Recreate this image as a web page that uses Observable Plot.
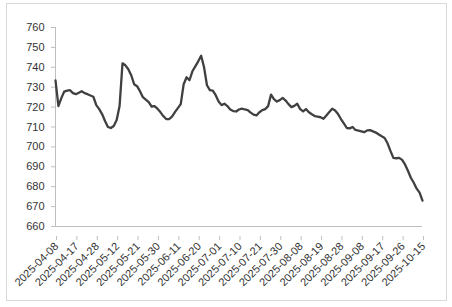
<!DOCTYPE html>
<html>
<head>
<meta charset="utf-8">
<script src="https://cdn.jsdelivr.net/npm/d3@7"></script>
<script src="https://cdn.jsdelivr.net/npm/@observablehq/plot@0.6"></script>
<style>
  html, body { margin: 0; padding: 0; background: #ffffff; }
  #wrap { position: relative; width: 452px; height: 307px; overflow: hidden; }
  #border { position: absolute; left: 6px; top: 3px; width: 439px; height: 296px; border: 1px solid #d9d9d9; pointer-events: none; }
  #chart { position: absolute; left: 0; top: 0; }
</style>
</head>
<body>
<div id="wrap"><div id="chart"></div><div id="border"></div></div>
<script>
const dates = [
  "2025-04-08","2025-04-09","2025-04-10","2025-04-11","2025-04-14","2025-04-15","2025-04-16","2025-04-17","2025-04-18","2025-04-21",
  "2025-04-22","2025-04-23","2025-04-24","2025-04-25","2025-04-28","2025-04-29","2025-04-30","2025-05-06","2025-05-07","2025-05-08",
  "2025-05-09","2025-05-12","2025-05-13","2025-05-14","2025-05-15","2025-05-16","2025-05-19","2025-05-20","2025-05-21","2025-05-22",
  "2025-05-23","2025-05-26","2025-05-27","2025-05-28","2025-05-29","2025-05-30","2025-06-03","2025-06-04","2025-06-05","2025-06-06",
  "2025-06-09","2025-06-10","2025-06-11","2025-06-12","2025-06-13","2025-06-16","2025-06-17","2025-06-18","2025-06-19","2025-06-20",
  "2025-06-23","2025-06-24","2025-06-25","2025-06-26","2025-06-27","2025-06-30","2025-07-01","2025-07-02","2025-07-03","2025-07-04",
  "2025-07-07","2025-07-08","2025-07-09","2025-07-10","2025-07-11","2025-07-14","2025-07-15","2025-07-16","2025-07-17","2025-07-18",
  "2025-07-21","2025-07-22","2025-07-23","2025-07-24","2025-07-25","2025-07-28","2025-07-29","2025-07-30","2025-07-31","2025-08-01",
  "2025-08-04","2025-08-05","2025-08-06","2025-08-07","2025-08-08","2025-08-11","2025-08-12","2025-08-13","2025-08-14","2025-08-15",
  "2025-08-18","2025-08-19","2025-08-20","2025-08-21","2025-08-22","2025-08-25","2025-08-26","2025-08-27","2025-08-28","2025-08-29",
  "2025-09-01","2025-09-02","2025-09-03","2025-09-04","2025-09-05","2025-09-08","2025-09-09","2025-09-10","2025-09-11","2025-09-12",
  "2025-09-15","2025-09-16","2025-09-17","2025-09-18","2025-09-19","2025-09-22","2025-09-23","2025-09-24","2025-09-25","2025-09-26",
  "2025-09-29","2025-09-30","2025-10-09","2025-10-10","2025-10-13","2025-10-14","2025-10-15"
];
const values = [
  733.4,720.5,724.5,727.8,728.3,728.5,727.0,726.5,727.2,728.0,
  727.0,726.5,725.8,725.2,721.0,719.0,716.5,713.0,710.0,709.5,
  710.5,713.5,720.5,742.0,741.0,739.0,736.0,731.5,730.5,728.0,
  725.0,723.8,722.5,720.3,720.5,719.2,717.5,715.5,714.0,714.0,
  715.2,717.5,719.5,721.5,731.5,735.0,733.5,738.0,740.5,743.0,
  745.8,740.0,731.0,728.5,728.3,726.0,722.8,721.0,721.7,720.5,
  718.8,718.0,717.8,718.8,719.2,718.8,718.5,717.2,716.2,715.8,
  717.4,718.5,719.0,720.5,726.3,724.0,722.8,723.5,724.6,723.3,
  721.5,720.0,720.6,721.7,719.0,717.8,719.0,717.4,716.4,715.5,
  715.2,714.9,714.1,715.8,717.5,719.2,718.3,716.5,714.0,711.8,
  709.5,709.3,710.0,708.5,708.2,707.8,707.4,708.3,708.4,707.8,
  707.2,706.2,705.3,704.5,701.8,698.0,694.5,694.3,694.5,693.5,
  691.2,688.0,684.5,682.0,679.0,677.0,673.0
];
const yTicks = [660, 670, 680, 690, 700, 710, 720, 730, 740, 750, 760];
const labelEvery = 7;

const data = values.map((v, i) => ({i, date: dates[i], value: v}));
const xTicks = d3.range(0, dates.length, labelEvery);

const chart = Plot.plot({
  width: 452,
  height: 307,
  marginLeft: 55,
  marginRight: 30,
  marginTop: 27,
  marginBottom: 81,
  style: {fontFamily: '"Liberation Sans", Arial, sans-serif', fontSize: "11px", color: "#404040", background: "transparent"},
  x: {type: "linear", domain: [0, dates.length - 1]},
  y: {domain: [660, 760]},
  marks: [
    Plot.ruleX([0], {stroke: "#bfbfbf"}),
    Plot.ruleY([660], {stroke: "#bfbfbf"}),
    Plot.axisY({ticks: yTicks, tickSize: 4, tickPadding: 7, stroke: "#bfbfbf", fill: "#333333", label: null}),
    Plot.axisX({ticks: xTicks, tickFormat: i => dates[i], tickRotate: -45, tickSize: 4, tickPadding: 4, dx: 1, dy: 10, stroke: "#bfbfbf", fill: "#333333", label: null}),
    Plot.line(data, {x: "i", y: "value", stroke: "#404040", strokeWidth: 2.3})
  ]
});
document.getElementById("chart").appendChild(chart);
</script>
</body>
</html>
